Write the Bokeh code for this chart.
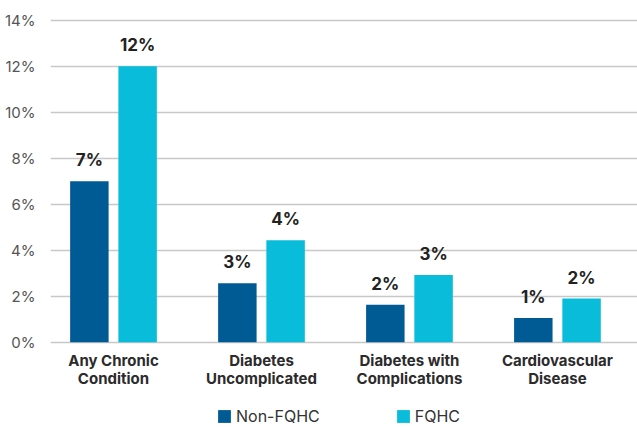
from bokeh.plotting import figure
from bokeh.core.properties import value
from bokeh.models import (ColumnDataSource, FixedTicker, LabelSet, Legend,
                          LegendItem, Range1d)
from bokeh.embed import file_html
from bokeh.resources import INLINE

# Share of patients with each condition, by clinic type (percent)
categories = ["Any Chronic\nCondition", "Diabetes\nUncomplicated",
              "Diabetes with\nComplications", "Cardiovascular\nDisease"]
non_fqhc = [7.0, 2.57, 1.63, 1.06]
fqhc = [12.0, 4.43, 2.93, 1.90]
y_ticks = [0, 2, 4, 6, 8, 10, 12, 14]

DARK = "#005A94"
CYAN = "#08BCDA"
FONT = "Inter"

xs = list(range(len(categories)))
offset = 0.163
bar_w = 0.26

src = ColumnDataSource(dict(
    x_non=[x - offset for x in xs],
    x_fq=[x + offset for x in xs],
    non=non_fqhc,
    fq=fqhc,
    non_lbl=[f"{round(v)}%" for v in non_fqhc],
    fq_lbl=[f"{round(v)}%" for v in fqhc],
))
first_lines = [c.split("\n")[0] for c in categories]
second_lines = [c.split("\n")[1] for c in categories]
cat_src = ColumnDataSource(dict(x=xs, y=[0] * len(xs),
                                line1=first_lines, line2=second_lines))

# the frame runs to the bottom edge so category names and legend sit inside it
p = figure(width=637, height=427, output_backend="svg", toolbar_location=None,
           x_range=Range1d(-0.4257, 3.541), y_range=Range1d(-3.7, 14.2),
           min_border_left=50, min_border_right=0, min_border_top=15,
           min_border_bottom=0)
p.outline_line_color = None
p.background_fill_color = "white"
p.border_fill_color = "white"
p.xaxis.visible = False

r_non = p.vbar(x="x_non", top="non", bottom=0, width=bar_w, source=src,
               fill_color=DARK, line_color=None)
r_fq = p.vbar(x="x_fq", top="fq", bottom=0, width=bar_w, source=src,
              fill_color=CYAN, line_color=None)

# value labels above bars
for xcol, ycol, tcol in (("x_non", "non", "non_lbl"), ("x_fq", "fq", "fq_lbl")):
    p.add_layout(LabelSet(x=xcol, y=ycol, text=tcol, source=src,
                          y_offset=15, text_align="center",
                          text_baseline="alphabetic",
                          text_font=value(FONT), text_font_style="bold",
                          text_font_size="17px", text_color="#222222"))

# category names under the baseline, one centred line at a time
for col, off in (("line1", 9), ("line2", 27)):
    p.add_layout(LabelSet(x="x", y="y", text=col, source=cat_src,
                          y_offset=-off, text_align="center",
                          text_baseline="top",
                          text_font=value(FONT), text_font_style="bold",
                          text_font_size="15px", text_color="#2b2b2b"))

# grid
p.xgrid.grid_line_color = None
p.ygrid.ticker = FixedTicker(ticks=y_ticks)
p.ygrid.grid_line_color = "#c8c8c8"
p.ygrid.grid_line_width = 1.5

# y axis
p.yaxis.ticker = FixedTicker(ticks=y_ticks)
p.yaxis.major_label_overrides = {t: f"{t}%" for t in y_ticks}
p.yaxis.axis_line_color = None
p.yaxis.major_tick_line_color = None
p.yaxis.minor_tick_line_color = None
p.yaxis.major_tick_out = 0
p.yaxis.major_tick_in = 0
p.yaxis.major_label_standoff = 15
p.yaxis.major_label_text_font = FONT
p.yaxis.major_label_text_font_size = "15px"
p.yaxis.major_label_text_color = "#555555"

legend = Legend(items=[LegendItem(label="Non-FQHC", renderers=[r_non]),
                       LegendItem(label="FQHC", renderers=[r_fq])],
                orientation="horizontal", location=(166, 1),
                glyph_width=16, glyph_height=16, label_standoff=4,
                spacing=75, padding=0, margin=0,
                label_text_font=FONT, label_text_font_size="16px",
                label_text_color="#333333",
                border_line_alpha=0, background_fill_alpha=0)
p.add_layout(legend, "center")

open("out.html", "w").write(file_html(p, INLINE))
